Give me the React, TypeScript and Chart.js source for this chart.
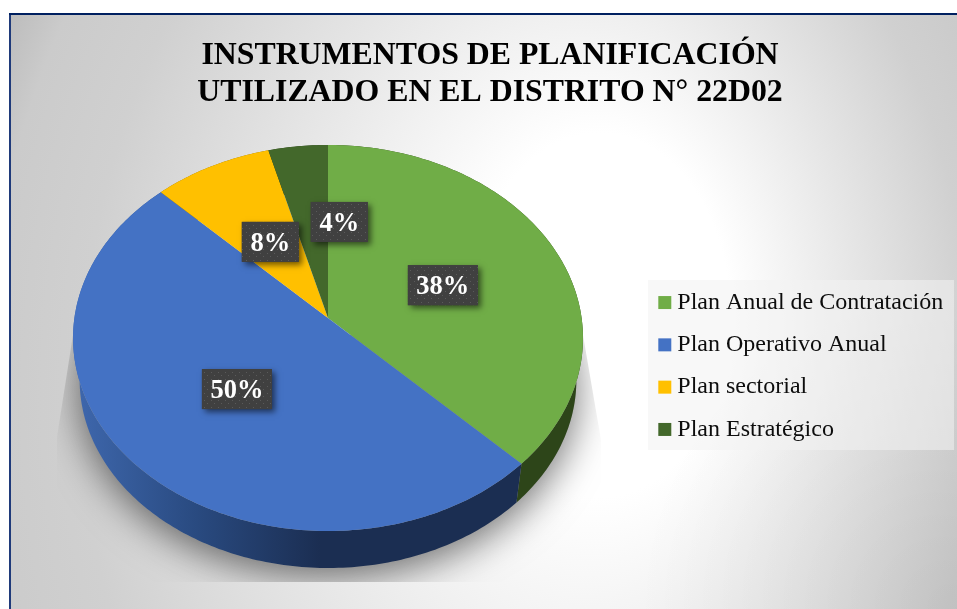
import React, { useEffect, useRef } from "react";
import { Chart, registerables } from "chart.js";

Chart.register(...registerables);

const categories = [
  "Plan Anual de Contratación",
  "Plan Operativo Anual",
  "Plan sectorial",
  "Plan Estratégico",
];
// Counts out of 24, which round to the printed 38%, 50%, 8% and 4%.
const counts = [9, 12, 2, 1];
const sliceColors = ["#70AD47", "#4472C4", "#FFC000", "#43682B"];
const titleLines = [
  "INSTRUMENTOS DE PLANIFICACIÓN",
  "UTILIZADO EN EL DISTRITO N° 22D02",
];

const SERIF = '"Liberation Serif", "Times New Roman", serif';

// Homography from the library's unit circle to the tilted disc seen on screen.
const APEX_X = 328;
const APEX_Y = 318;
const K = -0.1036;
const A = 253.6;
const B = 158;
function project(u: number, v: number): [number, number] {
  const d = 1 + K * v;
  return [APEX_X + (A * u) / d, (B * v + APEX_Y) / d];
}
function lower(p: [number, number]): [number, number] {
  return [APEX_X + (p[0] - APEX_X) * 0.974, 568 + (p[1] - 531) * 0.974];
}
function rim(start: number, end: number): [number, number][] {
  const n = Math.max(4, Math.ceil(Math.abs(end - start) * 60));
  const pts: [number, number][] = [];
  for (let i = 0; i <= n; i++) {
    const a = start + ((end - start) * i) / n;
    pts.push(project(Math.cos(a), Math.sin(a)));
  }
  return pts;
}

function dotPattern(ctx: CanvasRenderingContext2D) {
  const c = document.createElement("canvas");
  c.width = 7;
  c.height = 7;
  const g = c.getContext("2d")!;
  g.fillStyle = "#404040";
  g.fillRect(0, 0, 7, 7);
  g.fillStyle = "#5a5a5a";
  g.fillRect(1, 1, 1, 1);
  g.fillRect(4, 4, 1, 1);
  return ctx.createPattern(c, "repeat")!;
}

const backdrop = {
  id: "backdrop",
  beforeDraw(chart: any) {
    const { ctx, width, height } = chart;
    ctx.save();
    ctx.fillStyle = "#ffffff";
    ctx.fillRect(0, 0, width, height);
    ctx.save();
    ctx.beginPath();
    ctx.rect(9, 13, width - 9, height - 13);
    ctx.clip();
    ctx.save();
    ctx.scale(1, 1.4);
    const grad = ctx.createRadialGradient(600, 225, 130, 500, 300, 570);
    grad.addColorStop(0, "#ffffff");
    grad.addColorStop(0.72, "#d0d0d0");
    grad.addColorStop(0.9, "#cbcbcb");
    grad.addColorStop(1, "#bcbcbc");
    ctx.fillStyle = grad;
    ctx.fillRect(0, 0, width, height);
    ctx.restore();
    const corner = ctx.createRadialGradient(957, 609, 0, 957, 609, 320);
    corner.addColorStop(0, "rgba(0,0,0,0.07)");
    corner.addColorStop(1, "rgba(0,0,0,0)");
    ctx.fillStyle = corner;
    ctx.fillRect(0, 0, width, height);
    ctx.restore();
    ctx.fillStyle = "#1F3A7A";
    ctx.fillRect(9, 13, 2, height - 13);
    ctx.fillStyle = "#002060";
    ctx.fillRect(9, 13, width - 9, 2);
    // legend panel
    ctx.fillStyle = "rgba(242,242,242,0.55)";
    ctx.fillRect(648, 280, 306, 170);
    ctx.restore();
  },
};

const legendPlacement = {
  id: "legendPlacement",
  afterLayout(chart: any) {
    const l = chart.legend;
    l.left = 646;
    l.right = 957;
    l.top = 80;
    l.bottom = 652;
  },
};

const tiltedPie = {
  id: "tiltedPie",
  beforeDatasetDraw() {
    return false;
  },
  beforeDatasetsDraw(chart: any) {
    const { ctx } = chart;
    const arcs = chart.getDatasetMeta(0).data;
    ctx.save();
    // soft cast shadow, clipped to its rectangle-like frame
    const full = rim(0, Math.PI * 2).map(lower);
    ctx.save();
    ctx.beginPath();
    ctx.moveTo(73, 335);
    ctx.lineTo(57, 437);
    ctx.lineTo(57, 582);
    ctx.lineTo(601, 582);
    ctx.lineTo(601, 440);
    ctx.lineTo(583, 335);
    ctx.closePath();
    ctx.clip();
    ctx.shadowColor = "rgba(0,0,0,0.55)";
    ctx.shadowBlur = 38;
    ctx.shadowOffsetY = 9;
    ctx.fillStyle = "#999";
    ctx.beginPath();
    full.forEach((p, i) => (i ? ctx.lineTo(p[0], p[1]) : ctx.moveTo(p[0], p[1])));
    ctx.closePath();
    ctx.fill();
    ctx.restore();
    // walls
    const wallGrad = ctx.createLinearGradient(73, 0, 320, 0);
    wallGrad.addColorStop(0, "#3F68AE");
    wallGrad.addColorStop(0.5, "#294A80");
    wallGrad.addColorStop(1, "#1B2E52");
    const walls = ["#2D4519", wallGrad, "#8a6a00", "#263b18"];
    arcs.forEach((arc: any, i: number) => {
      const top = rim(arc.startAngle, arc.endAngle);
      const bottom = top.map(lower).reverse();
      ctx.fillStyle = walls[i];
      ctx.beginPath();
      [...top, ...bottom].forEach((p, j) => (j ? ctx.lineTo(p[0], p[1]) : ctx.moveTo(p[0], p[1])));
      ctx.closePath();
      ctx.fill();
    });
    // top faces
    arcs.forEach((arc: any, i: number) => {
      const top = rim(arc.startAngle, arc.endAngle);
      ctx.fillStyle = sliceColors[i];
      ctx.beginPath();
      ctx.moveTo(APEX_X, APEX_Y);
      top.forEach((p) => ctx.lineTo(p[0], p[1]));
      ctx.closePath();
      ctx.fill();
    });
    ctx.restore();
  },
  afterDatasetsDraw(chart: any) {
    const { ctx } = chart;
    const arcs = chart.getDatasetMeta(0).data;
    const total = counts.reduce((a, b) => a + b, 0);
    const pattern = dotPattern(ctx);
    const shifts = [[0, 3], [2, 1], [3, 3], [27, -6]];
    const boxW = [70, 70, 57, 57];
    ctx.save();
    arcs.forEach((arc: any, i: number) => {
      const mid = (arc.startAngle + arc.endAngle) / 2;
      const p = project(Math.cos(mid) * 0.5, Math.sin(mid) * 0.5);
      const x = p[0] + shifts[i][0];
      const y = p[1] + shifts[i][1];
      ctx.save();
      ctx.shadowColor = "rgba(0,0,0,0.55)";
      ctx.shadowBlur = 6;
      ctx.shadowOffsetX = 3;
      ctx.shadowOffsetY = 3;
      ctx.fillStyle = "#404040";
      ctx.fillRect(x - boxW[i] / 2, y - 20, boxW[i], 40);
      ctx.restore();
      ctx.fillStyle = pattern;
      ctx.fillRect(x - boxW[i] / 2, y - 20, boxW[i], 40);
      ctx.fillStyle = "#ffffff";
      ctx.font = `bold 26.5px ${SERIF}`;
      ctx.textAlign = "center";
      ctx.textBaseline = "middle";
      ctx.fillText(`${Math.round((counts[i] / total) * 100)}%`, x, y + 2);
    });
    ctx.restore();
  },
};

export default function App() {
  const ref = useRef<HTMLCanvasElement>(null);
  useEffect(() => {
    const chart = new Chart(ref.current!, {
      type: "pie",
      data: {
        labels: categories,
        datasets: [{ data: counts, backgroundColor: sliceColors, borderWidth: 0 }],
      },
      options: {
        animation: false,
        responsive: false,
        layout: { padding: { left: 23 } },
        plugins: {
          title: {
            display: true,
            text: titleLines,
            color: "#000000",
            font: { family: SERIF, size: 31.8, weight: "bold", lineHeight: 1.163 },
            padding: { top: 37, bottom: 10 },
          },
          legend: {
            position: "right",
            labels: {
              color: "#0d0d0d",
              font: { family: SERIF, size: 24 },
              padding: 18.3,
              usePointStyle: true,
              pointStyle: "rect",
              boxWidth: 1,
              boxHeight: 13,
            },
          },
          tooltip: { enabled: false },
        },
      },
      plugins: [backdrop, legendPlacement, tiltedPie],
    } as any);
    return () => chart.destroy();
  }, []);
  return (
    <div style={{ position: "fixed", left: 0, top: 0, width: 957, height: 609 }}>
      <canvas ref={ref} width={957} height={609} style={{ display: "block" }} />
    </div>
  );
}
